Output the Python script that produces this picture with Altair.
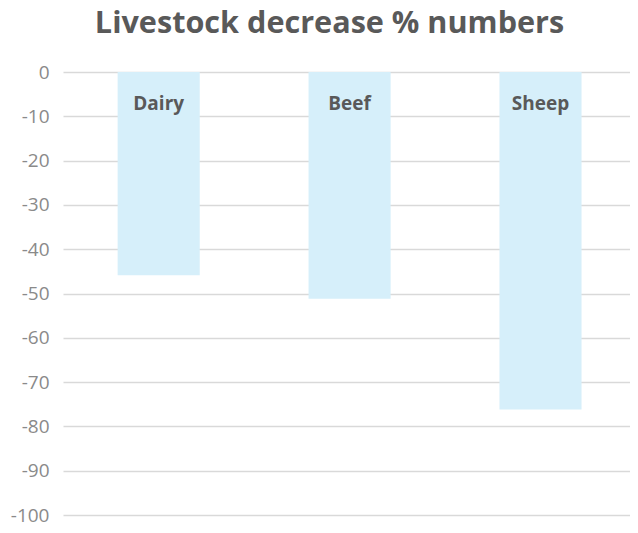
import altair as alt
import pandas as pd

categories = ["Dairy", "Beef", "Sheep"]
values = [-45.9, -51.2, -76.2]
y_ticks = [0, -10, -20, -30, -40, -50, -60, -70, -80, -90, -100]

df = pd.DataFrame({"category": categories, "value": values})

x_enc = alt.X("category:N", sort=categories, axis=None,
              scale=alt.Scale(paddingInner=0.57, paddingOuter=0.27, align=0.53))

bars = alt.Chart(df).mark_bar(color="#D6EFFA").encode(
    x=x_enc,
    y=alt.Y("value:Q", scale=alt.Scale(domain=[-100, 0], nice=False),
            axis=alt.Axis(values=y_ticks, title=None, domain=False, ticks=False,
                          labelExpr="toString(datum.value)",
                          labelFontSize=19, labelFont="Open Sans", labelColor="#8A8A8A",
                          labelPadding=14, gridColor="#D9D9D9", gridWidth=1.5)),
)

labels = alt.Chart(df).mark_text(
    font="Open Sans", fontSize=19, fontWeight="bold", color="#595959",
    baseline="middle", align="center", dy=32,
).encode(
    x=x_enc,
    y=alt.datum(0),
    text="category:N",
)

chart = alt.layer(bars, labels).properties(
    width=567,
    height=443,
    title=alt.TitleParams("Livestock decrease % numbers", font="Open Sans", fontSize=30.6,
                          fontWeight="bold", color="#595959", anchor="middle", dx=-17,
                          offset=23),
    autosize=alt.AutoSizeParams(type="none"),
    padding={"left": 55, "top": 64, "right": 0, "bottom": 10},
).configure_view(stroke=None)

chart.save("out.html", embed_options={"renderer": "svg", "actions": False})
